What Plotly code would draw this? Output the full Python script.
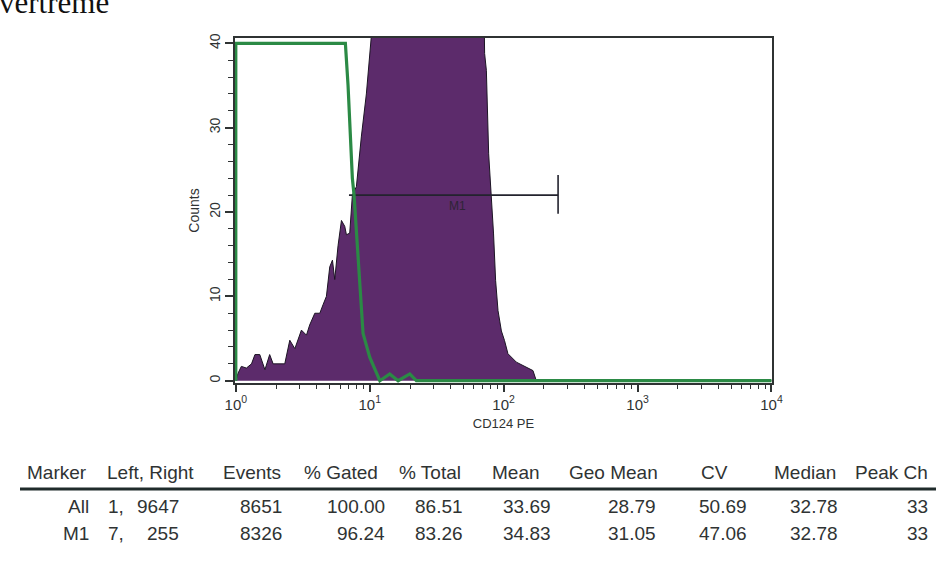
import numpy as np
import plotly.graph_objects as go

# CD124 PE stained sample: fluorescence (linear units) and events per channel
cd124_fl = [1.00, 1.04, 1.10, 1.20, 1.31, 1.39, 1.51, 1.65, 1.79, 1.90, 2.32, 2.53,
            2.76, 3.09, 3.37, 3.56, 3.89, 4.24, 4.48, 4.75, 5.03, 5.27, 5.48, 5.80,
            6.15, 6.51, 6.70, 7.09, 7.42, 7.95, 8.67, 9.44, 10.3, 12.0, 15.0, 20.0,
            25.0, 33.0, 40.0, 50.0, 60.0, 70.0, 72.1, 74.3, 77.3, 80.9, 84.1, 87.1,
            90.8, 96.2, 101.6, 107.7, 124.5, 165.6, 175.4, 10000]
cd124_counts = [0, 0.9, 1.7, 1.5, 2.0, 3.1, 3.1, 1.3, 3.1, 2.0, 2.0, 4.8,
                3.8, 6.0, 5.4, 6.6, 8.0, 8.0, 9.0, 10.0, 13.5, 14.3, 12.0, 16.0,
                19.0, 18.3, 17.3, 17.5, 22.0, 23.0, 29.0, 34.0, 41, 62, 110, 170,
                210, 232, 215, 160, 100, 55, 38.8, 36.8, 26.9, 22.2, 17.4, 11.9,
                8.3, 5.9, 4.75, 3.2, 2.2, 1.2, 0, 0]

# Isotype control overlay
ctrl_fl = [1.0, 1.0, 2.0, 4.0, 6.0, 6.58, 6.89, 7.09, 7.30, 7.42, 7.64, 7.95,
           8.42, 8.92, 10.0, 11.9, 14.1, 16.3, 19.9, 22.3, 10000]
ctrl_counts = [0, 260, 310, 190, 70, 41, 35, 31, 27, 24, 22, 18,
               12.7, 5.6, 2.8, 0, 0.8, 0, 0.8, 0, 0]

# Histogram display ceiling (counts)
y_ceiling = 40

# Marker M1 (fluorescence bounds) and the count level it is drawn at
m1_left, m1_right = 7, 255
m1_level = 22

# Statistics table
table_header = ["Marker", "Left, Right", "Events", "% Gated", "% Total", "Mean",
                "Geo Mean", "CV", "Median", "Peak Ch"]
row_marker = ["All", "M1"]
row_left = ["1,", "7,"]
row_right = ["9647", "255"]
row_events = ["8651", "8326"]
row_gated = ["100.00", "96.24"]
row_total = ["86.51", "83.26"]
row_mean = ["33.69", "34.83"]
row_geomean = ["28.79", "31.05"]
row_cv = ["50.69", "47.06"]
row_median = ["32.78", "32.78"]
row_peak = ["33", "33"]

# ---- layout geometry (pixels) ----
W, H = 943, 562
ML, MR, MT, MB = 235, 171, 38, 179
PW, PH = W - ML - MR, H - MT - MB


def px(x):
    return (x - ML) / PW


def py(y):
    return (H - MB - y) / PH


FONT = "Liberation Sans, Arial, Helvetica, sans-serif"
INK = "#2f3333"

fig = go.Figure()

fig.add_trace(go.Scatter(
    x=cd124_fl, y=cd124_counts, mode="lines", fill="tozeroy",
    fillcolor="#5c2b6b", line=dict(color="#1c1424", width=1),
    hoverinfo="skip", showlegend=False))

fig.add_trace(go.Scatter(
    x=[m1_left, m1_right, None, m1_right, m1_right],
    y=[m1_level, m1_level, None, m1_level - 2.2, m1_level + 2.4],
    mode="lines", line=dict(color="#23232e", width=1.6),
    hoverinfo="skip", showlegend=False))

fig.add_trace(go.Scatter(
    x=ctrl_fl, y=np.minimum(ctrl_counts, y_ceiling), mode="lines",
    line=dict(color="#2b8a45", width=3.2),
    hoverinfo="skip", showlegend=False))

fig.add_annotation(x=np.log10(45), y=20.7, xref="x", yref="y", text="M1",
                   showarrow=False, font=dict(family=FONT, size=12, color="#2e2436"))

decades = [1, 10, 100, 1000, 10000]
minor_vals = [m * d for d in decades[:-1] for m in range(2, 10)]

fig.update_xaxes(
    type="log", range=[-0.006, 4.004],
    tickvals=decades,
    ticktext=[f"10<sup>{i}</sup>" for i in range(5)],
    ticks="outside", ticklen=7, tickwidth=1.5, tickcolor=INK,
    minor=dict(tickvals=minor_vals, ticks="outside", ticklen=4, tickwidth=1.3, tickcolor=INK),
    showline=True, linecolor=INK, linewidth=1.5, mirror=True,
    showgrid=False, zeroline=False, layer="above traces",
    tickfont=dict(family=FONT, size=15, color=INK),
    title=dict(text="CD124 PE", font=dict(family=FONT, size=13, color=INK), standoff=7),
)
fig.update_yaxes(
    range=[-0.27, 40.63],
    tickvals=[0, 10, 20, 30, 40], tickangle=-90,
    ticks="outside", ticklen=8, tickwidth=1.5, tickcolor=INK,
    minor=dict(dtick=2, ticks="outside", ticklen=5, tickwidth=1.3, tickcolor=INK),
    showline=True, linecolor=INK, linewidth=1.5, mirror=True,
    showgrid=False, zeroline=False, layer="below traces",
    tickfont=dict(family=FONT, size=14, color=INK),
    title=dict(text="Counts", font=dict(family=FONT, size=14, color=INK), standoff=4),
)

# Heading text at the very top edge
fig.add_annotation(x=px(-3), y=py(22), xref="paper", yref="paper", text="vertreme",
                   xanchor="left", yanchor="bottom", showarrow=False,
                   font=dict(family="Liberation Serif, Times New Roman, serif", size=31, color="#111"))

# Statistics table
TFONT = dict(family=FONT, size=19, color=INK)
header_y = 472
row_y = [506, 533]
header_cx = [57, 150, 252, 341, 430, 516, 613, 714, 805, 891]
for label, cx in zip(table_header, header_cx):
    fig.add_annotation(x=px(cx), y=py(header_y), xref="paper", yref="paper", text=label,
                       xanchor="center", yanchor="middle", showarrow=False, font=TFONT)

columns = [row_marker, row_left, row_right, row_events, row_gated, row_total,
           row_mean, row_geomean, row_cv, row_median, row_peak]
right_edges = [91, 126, 181, 284, 387, 465, 553, 658, 749, 840, 930]
for col, xr in zip(columns, right_edges):
    for val, yy in zip(col, row_y):
        fig.add_annotation(x=px(xr), y=py(yy), xref="paper", yref="paper", text=val,
                           xanchor="right", yanchor="middle", showarrow=False, font=TFONT)

fig.add_shape(type="line", xref="paper", yref="paper",
              x0=px(20), x1=px(936), y0=py(489), y1=py(489),
              line=dict(color="#1f2b2b", width=3))

fig.update_layout(
    width=W, height=H,
    margin=dict(l=ML, r=MR, t=MT, b=MB, autoexpand=False),
    paper_bgcolor="white", plot_bgcolor="white",
    showlegend=False,
)

fig.write_html("out.html")
